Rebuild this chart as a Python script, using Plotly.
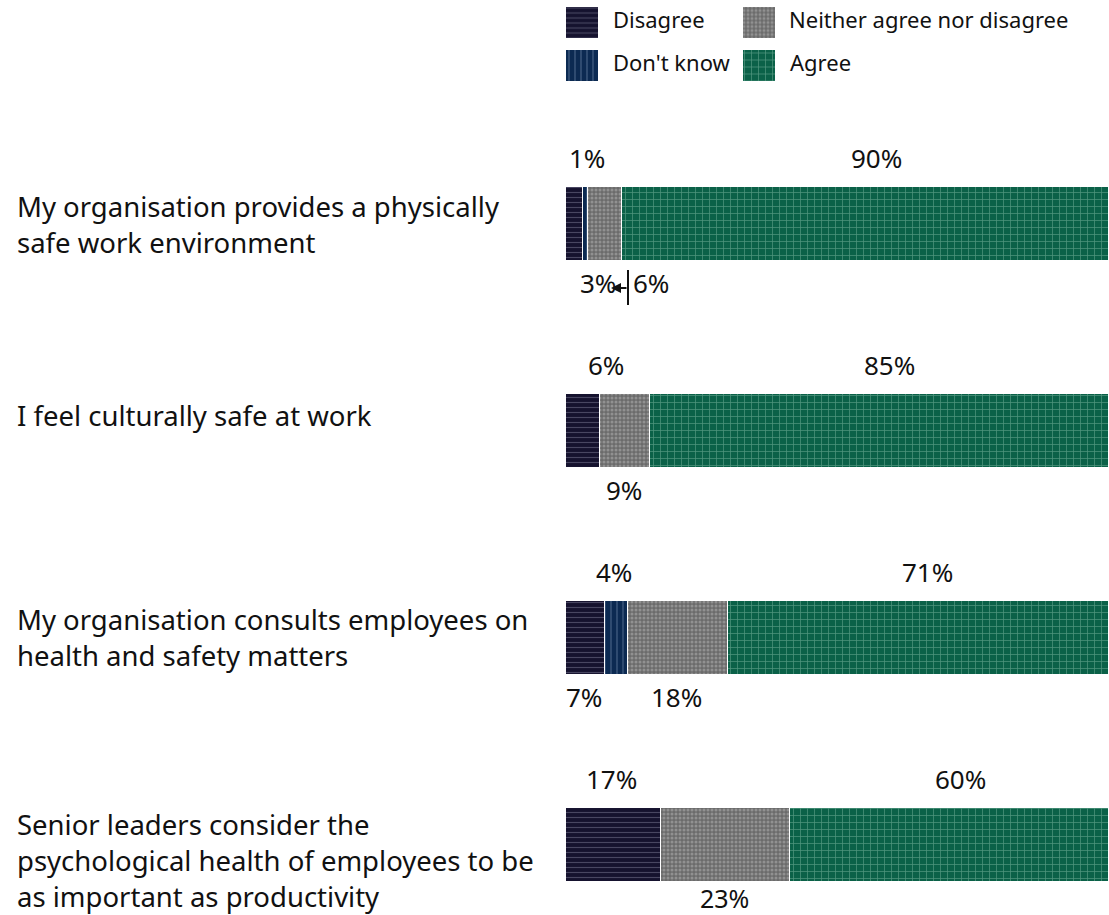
import plotly.graph_objects as go

# ---------------- data ----------------
questions = [
    "My organisation provides a physically<br>safe work environment",
    "I feel culturally safe at work",
    "My organisation consults employees on<br>health and safety matters",
    "Senior leaders consider the<br>psychological health of employees to be<br>as important as productivity",
]
series_names = ["Disagree", "Don't know", "Neither agree nor disagree", "Agree"]
disagree = [3, 6, 7, 17]
dont_know = [1, 0, 4, 0]
neither = [6, 9, 18, 23]
agree = [90, 85, 71, 60]
values = [disagree, dont_know, neither, agree]

# ---------------- styles ----------------
W, H = 1109, 915
FONT = "Noto Sans"
PX_PER_PCT = 5.6          # bars run past the right edge of the picture (cropped)
X0_PX, X1_PX = 566, 1108
styles = [
    dict(bg="#15122e", fg="#7c7a94", shape="-", size=5, sol=0.22),
    dict(bg="#0c2a52", fg="#8aa0bf", shape="|", size=6, sol=0.18),
    dict(bg="#6b6b6b", fg="#b8b8b8", shape=".", size=4, sol=0.45),
    dict(bg="#0b6148", fg="#93c9b3", shape="+", size=7, sol=0.2),
]
# label placement per series per row: (position, xshift)
label_place = [
    [("below", 24), ("above", 23), ("below", -2), ("above", -2)],  # Disagree
    [("above", 1), None, ("above", -2), None],                     # Don't know
    [("below", 46), ("below", -1), ("below", -2), ("below", -1)],  # Neither
    [("above", 2), ("above", 1), ("above", 0), ("above", 2)],      # Agree
]
below_shift = [-59, -59, -59, -53]
q_label_shift = [0, 16, 1, -15]

px2x = lambda p: p / W
py2y = lambda p: 1 - p / H

fig = go.Figure()
ypos = list(range(len(questions)))

for k, name in enumerate(series_names):
    st = styles[k]
    fig.add_trace(go.Bar(
        y=ypos, x=values[k], orientation="h", name=name, width=0.357,
        marker=dict(color=st["bg"],
                    line=dict(color="white", width=1.2),
                    pattern=dict(shape=st["shape"], fgcolor=st["fg"], bgcolor=st["bg"],
                                 size=st["size"], solidity=st["sol"], fillmode="overlay")),
        showlegend=False, hoverinfo="skip",
    ))

# value labels
annotations = []
for k in range(len(series_names)):
    for i in range(len(questions)):
        v = values[k][i]
        place = label_place[k][i]
        if v == 0 or place is None:
            continue
        start = sum(values[j][i] for j in range(k))
        center = start + v / 2
        pos, xs = place
        annotations.append(dict(
            x=center, y=i, xref="x", yref="y", text=f"{v}%", showarrow=False,
            xshift=xs, yshift=66 if pos == "above" else below_shift[i],
            borderpad=0,
            font=dict(family=FONT, size=26 if i < 3 or pos == "above" else 25,
                      color="#111111"),
        ))

# question labels
for i, q in enumerate(questions):
    annotations.append(dict(
        x=px2x(16), y=i, xref="paper", yref="y", text=q, showarrow=False,
        xanchor="left", align="left", yshift=q_label_shift[i], borderpad=0,
        font=dict(family=FONT, size=27.5, color="#111111"),
    ))

# leader arrow for the small first-row labels
annotations.append(dict(
    x=px2x(611), y=py2y(288), xref="paper", yref="paper", text="",
    showarrow=True, ax=17, ay=0, arrowhead=2, arrowsize=1, arrowwidth=2,
    arrowcolor="#111111",
))
shapes = [dict(type="line", xref="paper", yref="paper",
               x0=px2x(628), x1=px2x(628), y0=py2y(270), y1=py2y(305),
               line=dict(color="#111111", width=2))]

# custom legend (swatches drawn as bars on a dedicated axis)
leg_col = [566, 566, 743, 743]
leg_row = [0, 1, 0, 1]
leg_text_x = [611, 611, 787, 788]
for k, name in enumerate(series_names):
    st = styles[k]
    fig.add_trace(go.Bar(
        y=[leg_row[k]], x=[32], base=[leg_col[k]], orientation="h", width=0.7,
        xaxis="x2", yaxis="y2", showlegend=False, hoverinfo="skip",
        marker=dict(color=st["bg"], line=dict(width=0),
                    pattern=dict(shape=st["shape"], fgcolor=st["fg"], bgcolor=st["bg"],
                                 size=st["size"], solidity=st["sol"], fillmode="overlay")),
    ))
    annotations.append(dict(
        x=px2x(leg_text_x[k]), y=leg_row[k], xref="paper", yref="y2", text=name,
        showarrow=False, xanchor="left", yshift=2.5,
        font=dict(family=FONT, size=22, color="#111111"),
    ))

fig.update_layout(
    width=W, height=H, barmode="stack",
    margin=dict(l=0, r=0, t=0, b=0),
    paper_bgcolor="white", plot_bgcolor="white",
    xaxis=dict(domain=[px2x(X0_PX), px2x(X1_PX)],
               range=[0, (X1_PX - X0_PX) / PX_PER_PCT], visible=False, fixedrange=True),
    yaxis=dict(domain=[0, 1], range=[(H - 224) / 207, -224 / 207], visible=False, fixedrange=True),
    xaxis2=dict(domain=[px2x(566), 1], range=[566, W], visible=False, anchor="y2"),
    yaxis2=dict(domain=[py2y(86.5), py2y(0.5)], range=[1.5, -0.5], visible=False, anchor="x2"),
    annotations=annotations, shapes=shapes,
    bargap=0,
)

fig.write_html("out.html", post_script="document.body.style.margin='0';",
               config={"displayModeBar": False})
